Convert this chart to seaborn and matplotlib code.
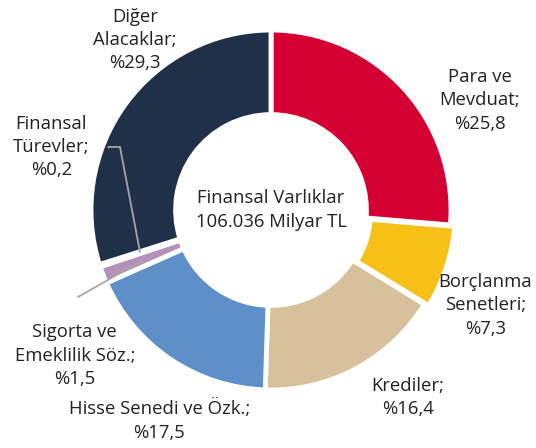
import matplotlib
matplotlib.use("Agg")
import matplotlib.pyplot as plt
import seaborn as sns

# --- data ---
labels = ["Para ve\nMevduat;\n%25,8", "Borçlanma\nSenetleri;\n%7,3", "Krediler;\n%16,4",
          "Hisse Senedi ve Özk.;\n%17,5", "Sigorta ve\nEmeklilik Söz.;\n%1,5",
          "Finansal\nTürevler;\n%0,2", "Diğer\nAlacaklar;\n%29,3"]
values = [25.8, 7.3, 16.4, 17.5, 1.5, 0.2, 29.3]
colors = ["#D50032", "#F7C016", "#D7C19D", "#5F8FC9", "#B590B8", "#9A9A9A", "#1F3048"]
explode = [0, 0.025, 0, 0, 0, 0, 0]
center_text = "Finansal Varlıklar\n106.036 Milyar TL"

sns.set_theme(style="white")
plt.rcParams['font.family'] = ['Open Sans', 'DejaVu Sans']

fig = plt.figure(figsize=(5.36, 4.48), dpi=100)
ax = fig.add_axes([91 / 536, 58 / 448, 360 / 536, 360 / 448])

ax.pie(values, colors=colors, startangle=90, counterclock=False, radius=1,
       explode=explode,
       wedgeprops=dict(width=0.47, edgecolor="white", linewidth=3.5))
ax.set_xlim(-1, 1)
ax.set_ylim(-1, 1)
ax.set_aspect("equal")
ax.axis("off")

txt = "#222222"
fs = 13.3
ls = 1.38
ax.text(0, 0, center_text, ha="center", va="center", fontsize=fs, color=txt, linespacing=ls)

# label positions (data coords)
pos = [(1.16, 0.61), (1.19, -0.53), (0.76, -1.04), (-0.62, -1.17),
       (-1.09, -0.81), (-1.22, 0.35), (-0.756, 0.944)]
for lab, (x, y) in zip(labels, pos):
    ax.text(x, y, lab, ha="center", va="center", fontsize=fs, color=txt,
            linespacing=ls, clip_on=False)

# leader lines
lc = "#A6A6A6"
ax.plot([(108 - 271) / 180, (120 - 271) / 180, (140 - 271) / 180],
        [(210 - 147) / 180, (210 - 147) / 180, (210 - 252) / 180],
        color=lc, lw=1.3, clip_on=False)
ax.plot([(78 - 271) / 180, (143 - 271) / 180],
        [(210 - 297) / 180, (210 - 260) / 180],
        color=lc, lw=1.3, clip_on=False)

fig.savefig("out.png", dpi=100, facecolor="white")
